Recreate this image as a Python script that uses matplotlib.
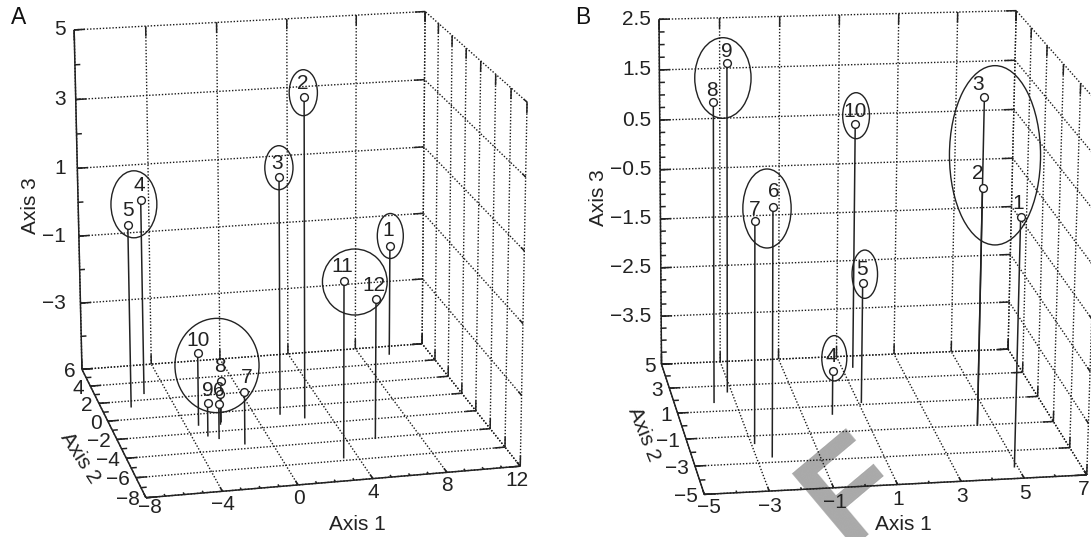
import numpy as np
import matplotlib
matplotlib.use("Agg")
import matplotlib.pyplot as plt
from matplotlib.patches import Ellipse

plt.rcParams['font.family'] = ['Liberation Sans', 'DejaVu Sans']

# Panel A values (axis 1, axis 2, axis 3)
a_labels = ["1", "2", "3", "4", "5", "6", "7", "8", "9", "10", "11", "12", ""]
a_axis1 = [9.69, 2.58, 1.39, -5.28, -6.36, -2.62, -1.44, -2.0, -3.13, -3.3, 3.23, 5.57, -2.11]
a_axis2 = [5.08, -1.29, -0.69, 2.73, 1.36, -2.73, -3.5, -1.01, -2.37, -1.17, -5.72, -4.03, -1.25]
a_axis3 = [-1.71, 4.15, 1.83, 0.67, 0.28, -4.02, -3.51, -3.81, -4.05, -2.91, -0.04, -1.02, -4.13]

# Panel B values
b_labels = ["1", "2", "3", "4", "5", "6", "7", "8", "9", "10"]
b_axis1 = [4.9, 4.48, 4.51, -0.02, 1.1, -2.5, -2.89, -3.7, -3.14, 1.38]
b_axis2 = [-4.17, -0.99, -0.86, 0.37, 1.18, -2.6, -1.56, 1.71, 2.5, 4.06]
b_axis3 = [0.28, 0.18, 1.89, -3.63, -2.08, 0.3, -0.19, 1.46, 2.05, 0.49]

a_xticks = [-8, -4, 0, 4, 8, 12]
a_yticks = [-8, -6, -4, -2, 0, 2, 4, 6]
a_zticks = [-3, -1, 1, 3, 5]
a_zgrid = [-5, -3, -1, 1, 3, 5]
b_xticks = [-5, -3, -1, 1, 3, 5, 7]
b_yticks = [-5, -3, -1, 1, 3, 5]
b_zticks = [-3.5, -2.5, -1.5, -0.5, 0.5, 1.5, 2.5]

# Camera: where known box corners land on the page, in pixels
a_corner_world = [(-8, 6, 5), (-8, 6, -5), (-8, -8, -5), (12, -8, -5), (12, 6, -5), (12, 6, 5), (12, -8, 5)]
a_corner_page = [(74.1, 30), (81.9, 369), (146.1, 498), (520.2, 466), (422.1, 344), (425.2, 11.5), (527, 102)]
b_corner_world = [(-5, 5, 2.5), (-5, 5, -4.5), (-5, -5, -4.5), (7, -5, -4.5), (7, 5, -4.5), (7, 5, 2.5), (7, -3, 2.5)]
b_corner_page = [(659.0, 19.3), (661.5, 364.3), (704.3, 494.3), (1086.8, 475), (1008.0, 349), (1016.3, 10.7), (1080.6, 83.3)]

# Group rings and label offsets, in pixels
a_rings = [(303.3, 92.7, 28.2, 46), (278.9, 167.7, 28.2, 44), (133.9, 204.3, 45.9, 67),
           (390.3, 236, 26, 45), (354.8, 282, 64.7, 66), (217, 365.5, 84.1, 94.3)]
b_rings = [(722.9, 78, 56.3, 80.6), (856.1, 115.7, 26.8, 46), (767, 208.5, 48.3, 79),
           (995, 155.3, 91.1, 179.3), (864.8, 274.2, 25.5, 48.3), (834.3, 358.3, 25, 45.3)]
a_offsets = [(-1.7, -15.3), (-1.4, -12.7), (-1.7, -13), (-1.4, -14.3), (0, -14.3), (0, -14.3), (2, -14.3),
             (-1, -14.3), (0, -12.7), (0, -12.7), (-1.6, -15), (-2, -13.3), (0, 0)]
b_offsets = [(-2, -13.3), (-4.9, -14.3), (-6, -12), (-1.4, -14.7), (-0.7, -13.3), (0.7, -14.7),
             (-0.3, -11.7), (-1.4, -11.7), (0.3, -12), (0.3, -12.7)]

INK = '#222222'
FS = 15


def fit_camera(world, page):
    rows = []
    for (x, y, z), (u, v) in zip(world, page):
        rows.append([x, y, z, 1, 0, 0, 0, 0, -u*x, -u*y, -u*z, -u])
        rows.append([0, 0, 0, 0, x, y, z, 1, -v*x, -v*y, -v*z, -v])
    return np.linalg.svd(np.array(rows, float))[2][-1].reshape(3, 4)


def tick_text(v):
    return str(v).replace('-', '\u2212')


def draw_panel(ax, cam, xt, yt, zgrid, zstep, yl, zl):
    def pr(x, y, z):
        h = cam @ np.array([x, y, z, 1.0])
        return h[0] / h[2], h[1] / h[2]

    def seg(p, q, **kw):
        a, b = pr(*p), pr(*q)
        ax.plot([a[0], b[0]], [a[1], b[1]], **kw)

    dotted = dict(color='#1a1a1a', lw=1.0, ls=(0, (1, 1.3)), zorder=2)
    solid = dict(color=INK, lw=1.1, solid_capstyle='butt', zorder=3)
    x0, x1 = xt[0], xt[-1]
    y0, y1 = yl
    z0, z1 = zl
    dx, dy, dz = 0.03 * (x1 - x0), 0.03 * (y1 - y0), 0.03 * (z1 - z0)

    # back wall, floor and right wall grids
    for x in xt:
        seg((x, y1, z0), (x, y1, z1), **dotted)
        seg((x, y0, z0), (x, y1, z0), **dotted)
    for y in yt:
        seg((x0, y, z0), (x1, y, z0), **dotted)
        seg((x1, y, z0), (x1, y, z1), **dotted)
    for z in zgrid:
        seg((x0, y1, z), (x1, y1, z), **dotted)
        seg((x1, y0, z), (x1, y1, z), **dotted)

    # solid box edges
    seg((x0, y1, z0), (x0, y1, z1), **solid)
    seg((x0, y0, z0), (x0, y1, z0), **solid)
    seg((x0, y0, z0), (x1, y0, z0), **solid)

    # major ticks
    for x in xt:
        seg((x, y0, z0), (x, y0 + dy, z0), **solid)
        seg((x, y1, z0), (x, y1, z0 + dz), **solid)
        seg((x, y1, z1), (x, y1, z1 - dz), **solid)
    for y in yt:
        seg((x0, y, z0), (x0 + dx, y, z0), **solid)
        seg((x1, y, z0), (x1 - dx, y, z0), **solid)
        seg((x1, y, z0), (x1, y, z0 + dz), **solid)
        seg((x1, y, z1), (x1, y, z1 - dz), **solid)
    for z in zgrid:
        seg((x0, y1, z), (x0 + dx, y1, z), **solid)
        seg((x1, y1, z), (x1 - dx, y1, z), **solid)
        seg((x1, y0, z), (x1, y0 + dy, z), **solid)

    # minor ticks on the three labelled axes
    for x in np.arange(x0, x1 + 0.01, 1):
        seg((x, y0, z0), (x, y0 + dy / 2, z0), **solid)
    for y in np.arange(y0, y1 + 0.01, 1):
        seg((x0, y, z0), (x0 + dx / 2, y, z0), **solid)
    for z in np.arange(z0, z1 + 0.01, zstep):
        seg((x0, y1, z), (x0 + dx / 2, y1, z), **solid)
    return pr


def draw_points(ax, pr, xs, ys, zs, labels, offsets, z0):
    for x, y, z, lab, off in zip(xs, ys, zs, labels, offsets):
        top, base = pr(x, y, z), pr(x, y, z0)
        ax.plot([top[0], base[0]], [top[1], base[1]], color=INK, lw=1.1, zorder=4)
        ax.plot(top[0], top[1], 'o', ms=5.6, mfc='white', mec=INK, mew=1.0, zorder=5)
        if lab:
            ax.text(top[0] + off[0], top[1] + off[1], lab, fontsize=FS, color=INK,
                    ha='center', va='center', zorder=6)


def draw_rings(ax, rings):
    for cx, cy, w, h in rings:
        ax.add_patch(Ellipse((cx, cy), w, h, fill=False, ec=INK, lw=1.0, zorder=6))


def label_axes(ax, pr, xt, yt, zt, y0, y1, z0, x0, zright, first, rest, last):
    for i, x in enumerate(xt):
        u, v = pr(x, y0, z0)
        o = first if i == 0 else last if i == len(xt) - 1 else rest
        ax.text(u + o[0], v + o[1], tick_text(x), fontsize=FS, color=INK, ha='center', va='center')
    for y in yt:
        u, v = pr(x0, y, z0)
        ax.text(u - 6, v + 2, tick_text(y), fontsize=FS, color=INK, ha='right', va='center')
    for z in zt:
        u, v = pr(x0, y1, z)
        ax.text(zright, v, tick_text(z), fontsize=FS, color=INK, ha='right', va='center')


fig = plt.figure(figsize=(10.91, 5.37), dpi=100)
ax = fig.add_axes([0, 0, 1, 1])
ax.set_xlim(0, 1091)
ax.set_ylim(537, 0)
ax.axis('off')

# proof stamp behind panel B
ax.text(780, 470, 'F', fontsize=100, fontweight='bold', color='#a9a9a9', rotation=40,
        rotation_mode='anchor', ha='left', va='top', zorder=0)

cam_a = fit_camera(a_corner_world, a_corner_page)
pr_a = draw_panel(ax, cam_a, a_xticks, a_yticks, a_zgrid, 1, (-8, 6), (-5, 5))
draw_points(ax, pr_a, a_axis1, a_axis2, a_axis3, a_labels, a_offsets, -5)
draw_rings(ax, a_rings)
label_axes(ax, pr_a, a_xticks, a_yticks, a_zticks, -8, 6, -5, -8, 65.5, (4, 10), (0.5, 13.5), (-3.5, 14.7))

cam_b = fit_camera(b_corner_world, b_corner_page)
pr_b = draw_panel(ax, cam_b, b_xticks, b_yticks, [-4.5] + b_zticks, 0.25, (-5, 5), (-4.5, 2.5))
draw_points(ax, pr_b, b_axis1, b_axis2, b_axis3, b_labels, b_offsets, -4.5)
draw_rings(ax, b_rings)
label_axes(ax, pr_b, b_xticks, b_yticks, b_zticks, -5, 5, -4.5, -5, 651, (5, 13), (1, 15), (-3, 15))

ax.text(357, 525, 'Axis 1', fontsize=FS, color=INK, ha='center', va='center')
ax.text(903, 525, 'Axis 1', fontsize=FS, color=INK, ha='center', va='center')
ax.text(31, 206, 'Axis 3', fontsize=FS, color=INK, rotation=90, ha='center', va='center')
ax.text(598, 198, 'Axis 3', fontsize=FS, color=INK, rotation=90, ha='center', va='center')
ax.text(80, 458, 'Axis 2', fontsize=FS, color=INK, rotation=-57, ha='center', va='center')
ax.text(643.5, 434, 'Axis 2', fontsize=FS, color=INK, rotation=-68, ha='center', va='center')
ax.text(19, 18, 'A', fontsize=16.5, color='#111111', ha='center', va='center')
ax.text(582.5, 18, 'B', fontsize=16.5, color='#111111', ha='center', va='center')

fig.savefig('out.png', dpi=100)
